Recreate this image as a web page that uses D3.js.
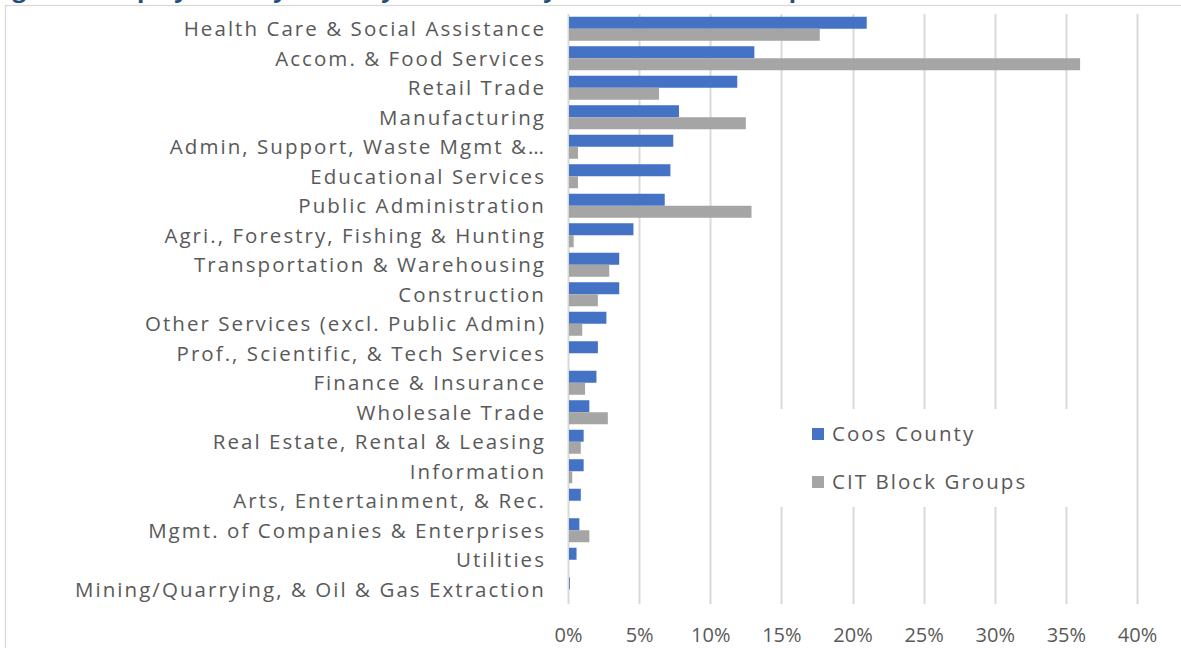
<!DOCTYPE html>
<html>
<head>
<meta charset="utf-8">
<script src="https://cdn.jsdelivr.net/npm/d3@7"></script>
<style>
  html, body { margin: 0; padding: 0; background: #fff; }
  svg { display: block; }
</style>
</head>
<body>
<svg id="chart" width="1181" height="648"></svg>
<script>
const categories = [
  "Health Care & Social Assistance",
  "Accom. & Food Services",
  "Retail Trade",
  "Manufacturing",
  "Admin, Support, Waste Mgmt &…",
  "Educational Services",
  "Public Administration",
  "Agri., Forestry, Fishing & Hunting",
  "Transportation & Warehousing",
  "Construction",
  "Other Services (excl. Public Admin)",
  "Prof., Scientific, & Tech Services",
  "Finance & Insurance",
  "Wholesale Trade",
  "Real Estate, Rental & Leasing",
  "Information",
  "Arts, Entertainment, & Rec.",
  "Mgmt. of Companies & Enterprises",
  "Utilities",
  "Mining/Quarrying, & Oil & Gas Extraction"
];
const coosCounty = [21.0, 13.1, 11.9, 7.8, 7.4, 7.2, 6.8, 4.6, 3.6, 3.6, 2.7, 2.1, 2.0, 1.5, 1.1, 1.1, 0.9, 0.8, 0.6, 0.1];
const citBlockGroups = [17.7, 36.0, 6.4, 12.5, 0.7, 0.7, 12.9, 0.4, 2.9, 2.1, 1.0, 0.0, 1.2, 2.8, 0.9, 0.3, 0.0, 1.5, 0.0, 0.0];
const seriesNames = ["Coos County", "CIT Block Groups"];
const tickValues = [0, 5, 10, 15, 20, 25, 30, 35, 40];
const titleText = "Figure 4: Employment by Industry, Coos County and CIT Block Groups";

const colors = { "Coos County": "#4472C4", "CIT Block Groups": "#A5A5A5" };
const textColor = "#595959";
const gridColor = "#D9D9D9";
const fontFamily = "'Open Sans', 'DejaVu Sans', sans-serif";
const fs = 20.5;

const svg = d3.select("#chart");

// fit letter-spacing so the widest label matches the reference width
const probeText = "Mining/Quarrying, & Oil & Gas Extraction";
const probe = svg.append("text").attr("font-family", fontFamily).attr("font-size", fs).text(probeText);
const probeW = probe.node().getComputedTextLength();
probe.remove();
const ls = (469 - probeW) / (probeText.length - 1);

const plot = { left: 568, right: 1137, top: 14, bottom: 604 };

// title (cut off at the top)
svg.append("text")
  .attr("x", -8).attr("y", -3.5)
  .attr("font-family", fontFamily).attr("font-weight", "bold").attr("font-size", 24)
  .attr("fill", "#1F4E79")
  .text(titleText);

// chart border
svg.append("rect")
  .attr("x", 5.5).attr("y", 5.5).attr("width", 1200).attr("height", 700)
  .attr("fill", "none").attr("stroke", gridColor).attr("stroke-width", 1.3);

const x = d3.scaleLinear().domain([0, 40]).range([plot.left, plot.right]);
const y = d3.scaleBand().domain(categories).range([plot.top, plot.bottom])
  .paddingInner(0.186).paddingOuter(0.093);
const ySub = d3.scaleBand().domain(seriesNames).range([0, y.bandwidth()]).padding(0);

// gridlines
svg.append("g").selectAll("line").data(tickValues).join("line")
  .attr("x1", d => Math.round(x(d)) + 0.5).attr("x2", d => Math.round(x(d)) + 0.5)
  .attr("y1", plot.top).attr("y2", plot.bottom)
  .attr("stroke", gridColor).attr("stroke-width", 2);

// bars
const rows = categories.map((c, i) => ({ c, vals: [
  { s: seriesNames[0], v: coosCounty[i] },
  { s: seriesNames[1], v: citBlockGroups[i] }
]}));
const g = svg.append("g").selectAll("g").data(rows).join("g")
  .attr("transform", d => `translate(0,${y(d.c)})`);
g.selectAll("rect").data(d => d.vals.filter(v => v.v > 0)).join("rect")
  .attr("x", x(0) + 1)
  .attr("y", d => ySub(d.s))
  .attr("width", d => Math.max(0.8, x(d.v) - x(0) - 1))
  .attr("height", ySub.bandwidth())
  .attr("fill", d => colors[d.s]);

// category labels
svg.append("g").selectAll("text").data(categories).join("text")
  .attr("x", 546)
  .attr("y", d => y(d) + y.bandwidth() / 2)
  .attr("dy", "0.36em")
  .attr("text-anchor", "end")
  .attr("font-family", fontFamily).attr("font-size", fs)
  .attr("letter-spacing", ls)
  .attr("fill", textColor)
  .text(d => d);

// x tick labels
const xAxis = d3.axisBottom(x).tickValues(tickValues).tickFormat(d => d + "%").tickSize(0);
const ax = svg.append("g").attr("transform", `translate(0,${642})`).call(xAxis);
ax.select(".domain").remove();
ax.selectAll("text")
  .attr("y", 0).attr("dy", 0)
  .attr("font-family", fontFamily).attr("font-size", 20)
  .attr("fill", textColor);

// legend
const legend = svg.append("g");
legend.append("rect").attr("x", 772).attr("y", 409).attr("width", 310).attr("height", 98).attr("fill", "#fff");
const li = legend.selectAll("g.item").data(seriesNames).join("g").attr("class", "item")
  .attr("transform", (d, i) => `translate(812,${434 + i * 48})`);
li.append("rect").attr("x", 0).attr("y", -6).attr("width", 12).attr("height", 12)
  .attr("fill", d => colors[d]);
li.append("text").attr("x", 20).attr("y", 0).attr("dy", "0.36em")
  .attr("font-family", fontFamily).attr("font-size", fs)
  .attr("letter-spacing", ls)
  .attr("fill", textColor).text(d => d);
</script>
</body>
</html>
